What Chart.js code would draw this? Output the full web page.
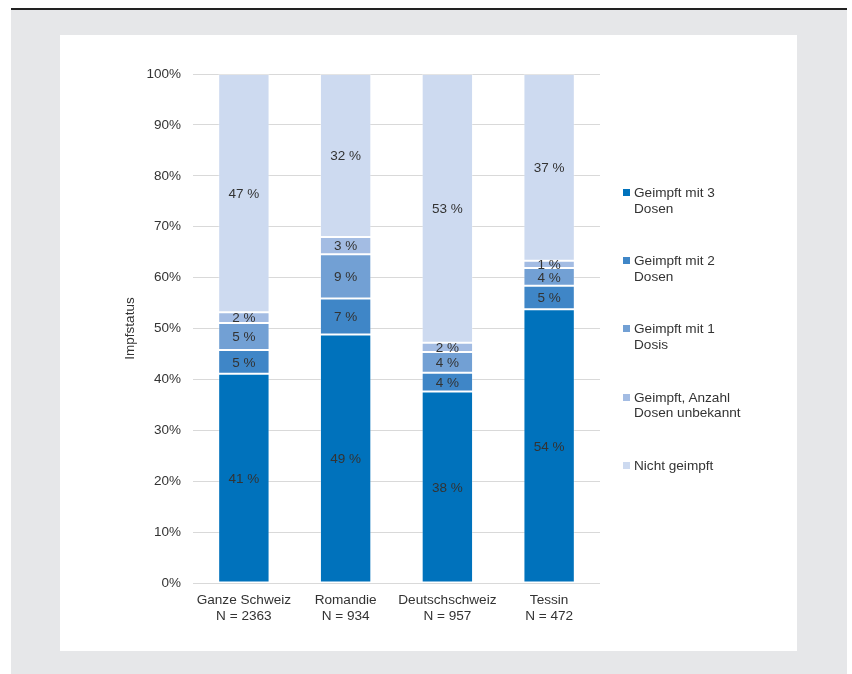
<!DOCTYPE html>
<html>
<head>
<meta charset="utf-8">
<script src="https://cdn.jsdelivr.net/npm/chart.js@4"></script>
<style>
  body { margin: 0; background: #fff; font-family: "Liberation Sans", Arial, sans-serif; }
  #rahmen { position: absolute; left: 11px; top: 8px; width: 836px; height: 664px;
            border-top: 2px solid #222; background: #e6e7e9; }
  #panel { position: absolute; left: 49px; top: 25px; width: 737px; height: 616px; background: #fff; }
  #panel canvas { position: absolute; left: 0; top: 0; }
  #legende { position: absolute; left: 563px; top: 0; }
  .eintrag { position: absolute; left: 0; width: 140px; font-size: 13.6px; line-height: 15.5px; color: #333; }
  .eintrag span.box { position: absolute; left: 0; top: 4px; width: 7px; height: 7px; }
  .eintrag span.txt { position: absolute; left: 11px; top: 0; width: 116px; }
</style>
</head>
<body>
<div id="rahmen">
  <div id="panel">
    <canvas id="miGrafica" width="737" height="616"></canvas>
    <div id="legende"></div>
  </div>
</div>
<script>
// Kategorien (zweizeilig)
const regionen = [
    ["Ganze Schweiz", "N = 2363"],
    ["Romandie", "N = 934"],
    ["Deutschschweiz", "N = 957"],
    ["Tessin", "N = 472"]
];

// Anteile in %
const dosen3 = [41.1, 48.8, 37.6, 53.8];
const dosen2 = [4.7, 7.1, 3.7, 4.6];
const dosen1 = [5.3, 8.7, 4.1, 3.5];
const unbekannt = [2.1, 3.4, 1.8, 1.4];
const nichtGeimpft = [46.8, 32.0, 52.8, 36.7];

const serienNamen = [
    "Geimpft mit 3 Dosen",
    "Geimpft mit 2 Dosen",
    "Geimpft mit 1 Dosis",
    "Geimpft, Anzahl Dosen unbekannt",
    "Nicht geimpft"
];
const farben = ["#0072bc", "#3f86c7", "#72a0d4", "#a3bce3", "#cddaf0"];

const yTicks = [0, 10, 20, 30, 40, 50, 60, 70, 80, 90, 100];

const schrift = "'Liberation Sans', Arial, sans-serif";

// Beschriftung in den Balken
const wertePlugin = {
    id: "werte",
    afterDatasetsDraw(chart) {
        const ctx = chart.ctx;
        ctx.save();
        ctx.font = "13.5px " + schrift;
        ctx.fillStyle = "#333";
        ctx.textAlign = "center";
        ctx.textBaseline = "middle";
        chart.data.datasets.forEach((ds, i) => {
            const meta = chart.getDatasetMeta(i);
            meta.data.forEach((bar, j) => {
                const y = (bar.y + bar.base) / 2 + 1;
                ctx.fillText(Math.round(ds.data[j]) + " %", bar.x, y);
            });
        });
        ctx.restore();
    }
};

const reihen = [dosen3, dosen2, dosen1, unbekannt, nichtGeimpft];
const datasets = reihen.map((werte, i) => ({
    label: serienNamen[i],
    data: werte,
    backgroundColor: farben[i],
    borderColor: "rgba(255,255,255,0.3)",
    borderWidth: 1,
    borderSkipped: false,
    barPercentage: 0.505,
    categoryPercentage: 1.0
}));

const ctx = document.getElementById("miGrafica").getContext("2d");
new Chart(ctx, {
    type: "bar",
    data: { labels: regionen, datasets: datasets },
    options: {
        responsive: false,
        animation: false,
        layout: { padding: { left: 60, right: 197, top: 39, bottom: 0 } },
        plugins: {
            legend: { display: false },
            tooltip: { enabled: false }
        },
        scales: {
            x: {
                stacked: true,
                grid: { display: false, drawTicks: false },
                border: { display: false },
                ticks: {
                    color: "#333",
                    padding: 10,
                    autoSkip: false,
                    maxRotation: 0,
                    minRotation: 0,
                    font: { family: schrift, size: 13.6, lineHeight: 1.12 }
                },
                afterFit(scale) { scale.height = 68; }
            },
            y: {
                stacked: true,
                min: 0,
                max: 100,
                afterBuildTicks(scale) { scale.ticks = yTicks.map(v => ({ value: v })); },
                grid: { color: "#d9d9d9", lineWidth: 1, drawTicks: false },
                border: { display: false },
                ticks: {
                    color: "#333",
                    padding: 12,
                    font: { family: schrift, size: 13.5 },
                    callback: v => v + "%"
                },
                title: {
                    display: true,
                    text: "Impfstatus",
                    color: "#333",
                    padding: { top: 2, bottom: 0 },
                    font: { family: schrift, size: 13.5 }
                },
                afterFit(scale) { scale.width = 73; }
            }
        }
    },
    plugins: [wertePlugin]
});

// Legende rechts
const legende = document.getElementById("legende");
serienNamen.forEach((name, i) => {
    const el = document.createElement("div");
    el.className = "eintrag";
    el.style.top = (150 + i * 68.2) + "px";
    el.innerHTML = '<span class="box" style="background:' + farben[i] + '"></span><span class="txt"></span>';
    el.querySelector(".txt").textContent = name;
    legende.appendChild(el);
});
</script>
</body>
</html>
